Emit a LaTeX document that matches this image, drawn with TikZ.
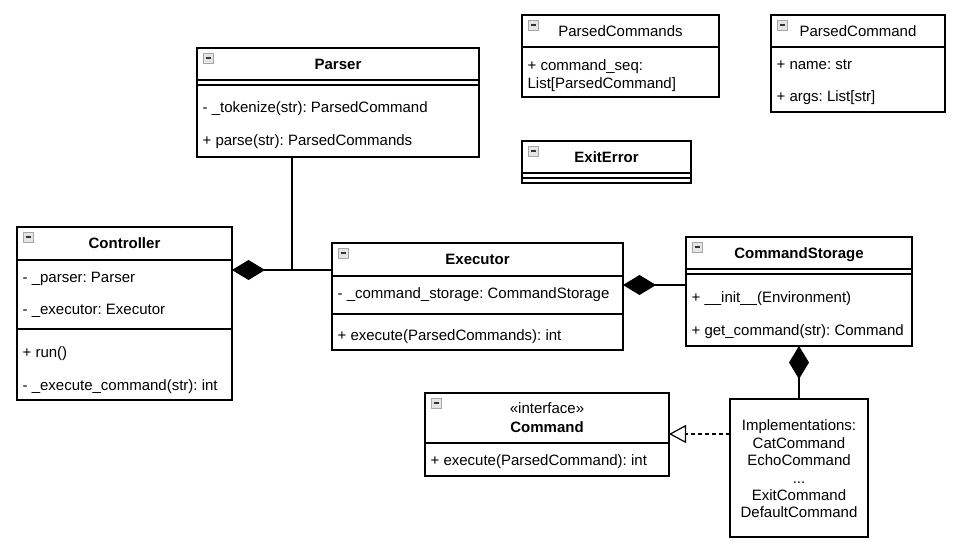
\documentclass[tikz,border=0pt]{standalone}
\usepackage{fontspec}
\setmainfont{Liberation Sans}
\usetikzlibrary{arrows.meta}
\frenchspacing
\newcommand\umlicon[1]{%
  \draw[line width=0.6pt, draw=gray!70, fill=gray!20] ([shift={(6,5)}]#1.north west) rectangle ++(10,10);
  \draw[line width=1.3pt, draw=black!80] ([shift={(8.5,10)}]#1.north west) -- ++(5,0);}
\begin{document}
\begin{tikzpicture}[x=1pt,y=-1pt, line width=1.2pt,
  box/.style={draw=black, fill=white, inner sep=0pt, outer sep=0pt, anchor=north west},
  attr/.style={anchor=west, inner sep=0pt, text height=10.8pt, text depth=0pt, font=\fontsize{15}{18}\selectfont\frenchspacing},
  btitle/.style={inner sep=0pt, text height=10.8pt, text depth=0pt, font=\fontsize{15}{18}\selectfont\bfseries},
  ntitle/.style={inner sep=0pt, text height=10.8pt, text depth=0pt, font=\fontsize{15}{18}\selectfont},
  comp/.style={{Diamond[length=33pt,width=20pt]}-},
  real/.style={dash pattern=on 4pt off 3pt, -{Triangle[open,length=17pt,width=18pt,fill=white]}}]
\fill[white] (0,0) rectangle (953,552);
\useasboundingbox (0,0) rectangle (953,552);

% Parser
\node[box, minimum width=282pt, minimum height=109pt] (parser) at (197,48) {};
\draw (parser.west |- 0,80) -- (parser.east |- 0,80);
\draw (parser.west |- 0,85) -- (parser.east |- 0,85);
\node[btitle] (parser-t) at (338,64) {Parser};
\node[attr] (parser-a1) at (202,107) {- \_tokenize(str): ParsedCommand};
\node[attr] (parser-a2) at (202,140) {+ parse(str): ParsedCommands};
\umlicon{parser}

% Controller
\node[box, minimum width=215pt, minimum height=173pt] (ctl) at (17,227) {};
\draw (ctl.west |- 0,260) -- (ctl.east |- 0,260);
\draw (ctl.west |- 0,329) -- (ctl.east |- 0,329);
\node[btitle] (ctl-t) at (124.5,243.5) {Controller};
\node[attr] (ctl-a1) at (22,277) {- \_parser: Parser};
\node[attr] (ctl-a2) at (22,309) {- \_executor: Executor};
\node[attr] (ctl-a3) at (22,352) {+ run()};
\node[attr] (ctl-a4) at (22,385) {- \_execute\_command(str): int};
\umlicon{ctl}

% Executor
\node[box, minimum width=291pt, minimum height=107pt] (exe) at (332,243) {};
\draw (exe.west |- 0,276) -- (exe.east |- 0,276);
\draw (exe.west |- 0,314) -- (exe.east |- 0,314);
\node[btitle] (exe-t) at (477.5,259.5) {Executor};
\node[attr] (exe-a1) at (337,293) {- \_command\_storage: CommandStorage};
\node[attr] (exe-a2) at (337,335) {+ execute(ParsedCommands): int};
\umlicon{exe}

% CommandStorage
\node[box, minimum width=226pt, minimum height=109pt] (cs) at (686,237) {};
\draw (cs.west |- 0,269) -- (cs.east |- 0,269);
\draw (cs.west |- 0,274) -- (cs.east |- 0,274);
\node[btitle] (cs-t) at (799,253) {CommandStorage};
\node[attr] (cs-a1) at (691,297) {+ \_\_init\_\_(Environment)};
\node[attr] (cs-a2) at (691,330) {+ get\_command(str): Command};
\umlicon{cs}

% ParsedCommands
\node[box, minimum width=197pt, minimum height=82pt] (pcs) at (522,15) {};
\draw (pcs.west |- 0,47) -- (pcs.east |- 0,47);
\node[ntitle] (pcs-t) at (620.5,31) {ParsedCommands};
\node[attr] (pcs-a1) at (527,65) {+ command\_seq:};
\node[attr] (pcs-a2) at (527,83) {List[ParsedCommand]};
\umlicon{pcs}

% ParsedCommand
\node[box, minimum width=174pt, minimum height=97pt] (pc) at (771,15) {};
\draw (pc.west |- 0,47) -- (pc.east |- 0,47);
\node[ntitle] (pc-t) at (858,31) {ParsedCommand};
\node[attr] (pc-a1) at (776,64) {+ name: str};
\node[attr] (pc-a2) at (776,96) {+ args: List[str]};
\umlicon{pc}

% ExitError
\node[box, minimum width=169pt, minimum height=42pt] (exit) at (522,141) {};
\draw (exit.west |- 0,173) -- (exit.east |- 0,173);
\draw (exit.west |- 0,178) -- (exit.east |- 0,178);
\node[btitle] (exit-t) at (606.5,157) {ExitError};
\umlicon{exit}

% Command interface
\node[box, minimum width=244pt, minimum height=83pt] (cmd) at (425,393) {};
\draw (cmd.west |- 0,443) -- (cmd.east |- 0,443);
\node[ntitle] (cmd-s) at (547,408) {«interface»};
\node[btitle] (cmd-t) at (547,427) {Command};
\node[attr] (cmd-a1) at (430,460) {+ execute(ParsedCommand): int};
\umlicon{cmd}

% Implementations
\node[box, minimum width=138pt, minimum height=138pt] (impl) at (730,399) {};
\node[inner sep=0pt, align=center, font=\fontsize{15}{17.4}\selectfont] (impl-t) at (799,469)
  {Implementations:\\CatCommand\\EchoCommand\\...\\ExitCommand\\DefaultCommand};

% connectors
\coordinate (j1) at (292,270);
\draw[comp] (ctl.east |- j1) -- (exe.west |- j1);
\draw (parser.south -| j1) -- (j1);
\coordinate (j2) at (0,285);
\draw[comp] (exe.east |- j2) -- (cs.west |- j2);
\draw[comp] (cs.south) -- (impl.north);
\coordinate (j3) at (0,434);
\draw[real] (impl.west |- j3) -- (cmd.east |- j3);
\end{tikzpicture}
\end{document}
